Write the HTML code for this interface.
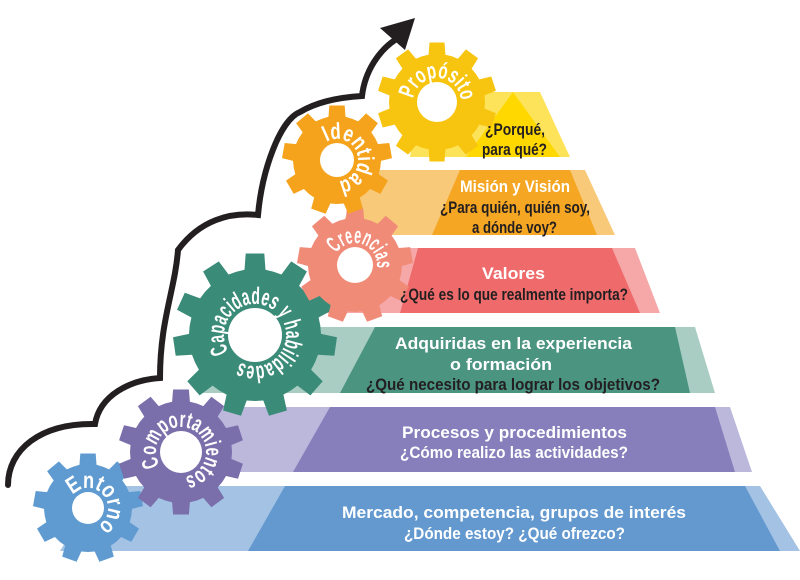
<!DOCTYPE html>
<html><head><meta charset="utf-8"><style>
html,body{margin:0;padding:0;background:#fff;width:800px;height:580px;overflow:hidden}
svg{display:block}
.w{fill:#fff;font-family:"Liberation Sans",sans-serif;font-weight:bold;font-size:16.5px}
.d{fill:#231f20;font-family:"Liberation Sans",sans-serif;font-weight:bold;font-size:16.5px}
.g{fill:#fff;font-family:"Liberation Sans",sans-serif;font-weight:bold}
</style></head><body>
<svg id="s" width="800" height="580" viewBox="0 0 800 580" xmlns="http://www.w3.org/2000/svg">
<path d="M8,485 C8,450 40,423 95,424 C100,395 130,380 160,378 C160,320 175,290 178,250 C200,220 230,212 258,215 C262,170 280,120 300,112 C320,100 345,97 362,96 C365,70 380,50 395,40" fill="none" stroke="#231f20" stroke-width="6" stroke-linecap="round"/>
<polygon points="380,28 415,18 405,50" fill="#231f20"/>
<polygon points="100,486 760,486 800,551 60,551" fill="#a3c2e4"/>
<polygon points="285,486 745,486 780,551 248,551" fill="#6399cf"/>
<polygon points="160,407 730,407 752,472 130,472" fill="#bcb8dc"/>
<polygon points="330,407 715,407 735,472 293,472" fill="#867fbb"/>
<polygon points="230,327 695,327 715,393 200,393" fill="#a9cdc3"/>
<polygon points="375,327 675,327 690,393 340,393" fill="#4a9480"/>
<polygon points="330,248 635,248 660,313 300,313" fill="#f6a8a8"/>
<polygon points="418,248 612,248 640,313 400,313" fill="#ef6b6b"/>
<polygon points="360,170 585,170 615,235 340,235" fill="#f9c97a"/>
<polygon points="460,170 570,170 597,235 432,235" fill="#f5a623"/>
<polygon points="420,92 540,92 570,157 410,157" fill="#fde35a"/>
<polygon points="513,92 560,157 466,157" fill="#ffd800"/>
<g id="gears"></g>
<g>
<text class="w" x="342" y="518" textLength="344" lengthAdjust="spacingAndGlyphs">Mercado, competencia, grupos de interés</text>
<text class="w" x="404" y="539" textLength="221" lengthAdjust="spacingAndGlyphs">¿Dónde estoy?  ¿Qué ofrezco?</text>
<text class="w" x="402" y="438" textLength="225" lengthAdjust="spacingAndGlyphs">Procesos y procedimientos</text>
<text class="w" x="400" y="458" textLength="228" lengthAdjust="spacingAndGlyphs">¿Cómo realizo las actividades?</text>
<text class="w" x="395" y="349" textLength="237" lengthAdjust="spacingAndGlyphs">Adquiridas en la experiencia</text>
<text class="w" x="450" y="370" textLength="102" lengthAdjust="spacingAndGlyphs">o formación</text>
<text class="d" x="366" y="390" textLength="294" lengthAdjust="spacingAndGlyphs">¿Qué necesito para lograr los objetivos?</text>
<text class="w" x="482" y="279" textLength="63" lengthAdjust="spacingAndGlyphs">Valores</text>
<text class="d" x="400" y="300" textLength="228" lengthAdjust="spacingAndGlyphs">¿Qué es lo que realmente importa?</text>
<text class="w" x="460" y="192" textLength="110" lengthAdjust="spacingAndGlyphs">Misión y Visión</text>
<text class="d" x="440" y="213" textLength="150" lengthAdjust="spacingAndGlyphs">¿Para quién, quién soy,</text>
<text class="d" x="472" y="233" textLength="85" lengthAdjust="spacingAndGlyphs">a dónde voy?</text>
<text class="d" x="485" y="135" textLength="60" lengthAdjust="spacingAndGlyphs">¿Porqué,</text>
<text class="d" x="482" y="155" textLength="65" lengthAdjust="spacingAndGlyphs">para qué?</text>
</g>
</svg>
<script>
var NS="http://www.w3.org/2000/svg",G=document.getElementById("gears"),defs=document.createElementNS(NS,"defs");G.appendChild(defs);
function gear(id,cx,cy,ro,ri,h,n,col,label,tr,a0,span,fs){
 var d="",st=Math.PI*2/n;
 for(var i=0;i<n;i++){var a=i*st;
  var pts=[[a-st*0.5,ri],[a-st*0.28,ri],[a-st*0.2,ro],[a+st*0.2,ro],[a+st*0.28,ri]];
  pts.forEach(function(p,j){var x=cx+p[1]*Math.sin(p[0]),y=cy-p[1]*Math.cos(p[0]);d+=(i==0&&j==0?"M":"L")+x.toFixed(1)+","+y.toFixed(1);});}
 d+="Z";
 var p=document.createElementNS(NS,"path");p.setAttribute("d",d);p.setAttribute("fill",col);G.appendChild(p);
 var c0=document.createElementNS(NS,"circle");c0.setAttribute("cx",cx);c0.setAttribute("cy",cy);c0.setAttribute("r",h);c0.setAttribute("fill","#fff");G.appendChild(c0);
 var a=a0*Math.PI/180,x1=cx+tr*Math.sin(a),y1=cy-tr*Math.cos(a),x2=cx-tr*Math.sin(a),y2=cy+tr*Math.cos(a);
 var c=document.createElementNS(NS,"path");c.setAttribute("id",id);c.setAttribute("d","M"+x1+","+y1+" A"+tr+","+tr+" 0 1,1 "+x2+","+y2+" A"+tr+","+tr+" 0 1,1 "+x1+","+y1);defs.appendChild(c);
 var t=document.createElementNS(NS,"text");t.setAttribute("class","g");t.setAttribute("font-size",fs);
 var tp=document.createElementNS(NS,"textPath");tp.setAttribute("href","#"+id);
 tp.setAttribute("textLength",(span*Math.PI/180*tr).toFixed(1));tp.setAttribute("lengthAdjust","spacingAndGlyphs");
 tp.textContent=label;t.appendChild(tp);G.appendChild(t);
}
gear("p1",88,508,55,44,16,9,"#5f9bd1","Entorno",20,-50,200,23);
gear("p2",181,452,63,51,21,10,"#7a6eab","Comportamientos",25,-122,292,23);
gear("p3",255,335,82,66,27,11,"#3a8b78","Capacidades y habilidades",31,-122,330,24);
gear("p4",355,265,58,47,18,9,"#f08b78","Creencias",22,-58,155,23);
gear("p5",337,160,55,44,17,9,"#f5a31c","Identidad",21,-30,205,23);
gear("p6",437,102,60,48,20,10,"#f7c40f","Propósito",24,-82,168,23);
</script>
</body></html>
